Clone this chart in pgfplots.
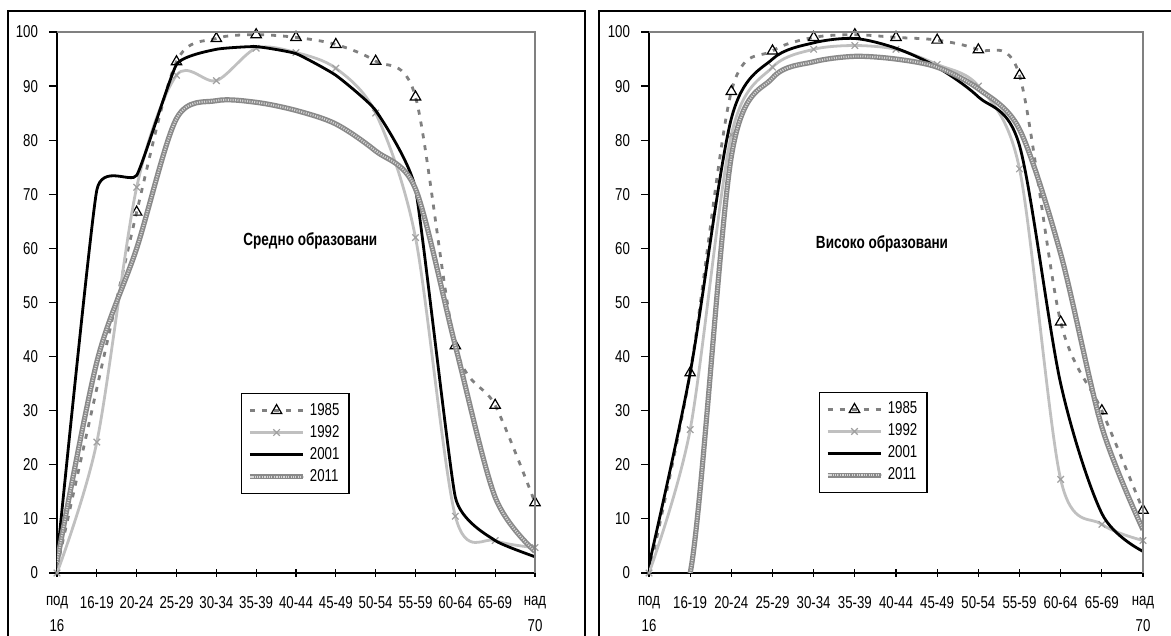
\documentclass[border=0pt]{standalone}
\usepackage{fontspec}
\setmainfont{Liberation Sans}[FakeStretch=0.77]
\usepackage{pgfplots}
\pgfplotsset{compat=1.18}
\definecolor{c85}{HTML}{808080}
\definecolor{c92}{HTML}{C0C0C0}
\definecolor{c92m}{HTML}{A0A0A0}
\definecolor{c11}{HTML}{8A8A8A}
\definecolor{c11h}{HTML}{D8D8D8}
\pgfplotsset{
  panel/.style={
    scale only axis,
    width=239pt, height=270.5pt,
    xmin=0, xmax=12, ymin=0, ymax=100,
    axis lines=left,
    axis line style={-, line width=0.8pt, black},
    xtick={0,...,12},
    xticklabels={под\\16,16-19,20-24,25-29,30-34,35-39,40-44,45-49,50-54,55-59,60-64,65-69,над\\70},
    ytick={0,10,...,100},
    major tick length=4pt,
    x tick style={black, line width=0.6pt},
    y tick style={black, line width=0.6pt},
    xtick align=center,
    ytick align=outside,
    tick label style={font=\fontsize{8.6}{13}\selectfont},
    xticklabel style={align=center, yshift=-6pt},
    yticklabel style={xshift=-2pt},
    /pgf/number format/assume math mode=true,
    legend cell align=left,
    legend style={draw=black, line width=0.6pt, font=\fontsize{8.6}{10}\selectfont,
      row sep=-0.5pt, inner sep=2.8pt},
    legend image code/.code={\draw[mark repeat=2,mark phase=2] plot coordinates {(0cm,0cm) (0.47cm,0cm) (0.94cm,0cm)};},
    clip mode=individual,
  },
  s85/.style={c85, line width=1.4pt, dash pattern=on 2.5pt off 3.5pt, smooth, tension=0.5,
    mark=triangle, mark size=3pt, mark options={solid, draw=black, fill=white, line width=0.6pt}},
  s92/.style={c92, line width=1.4pt, smooth, tension=0.5,
    mark=x, mark size=2.3pt, mark options={solid, draw=c92m, line width=0.6pt}},
  s01/.style={black, line width=1.4pt, smooth, tension=0.5, no markers},
  s11/.style={c11, line width=2.6pt, smooth, tension=0.5, no markers,
    postaction={draw=c11h, line width=1pt, dash pattern=on 0.5pt off 0.7pt}},
}
\begin{document}
\begin{tikzpicture}
\useasboundingbox (0,0) rectangle (585.5pt,318pt);
\draw[line width=1pt] (4pt,-5pt) -- (4pt,312.5pt) -- (292.5pt,312.5pt) -- (292.5pt,-5pt);
\draw[line width=1pt] (299.5pt,-5pt) -- (299.5pt,312.5pt) -- (600pt,312.5pt);

\begin{axis}[panel, at={(28.5pt,31.5pt)}, anchor=south west,
  legend style={at={(0.385,0.333)}, anchor=north west}]
\addplot[s85, mark phase=2] coordinates {(0,1) (2,66.7) (3,94.5) (4,98.8) (5,99.5) (6,99) (7,97.7) (8,94.6) (9,88) (10,42) (11,31) (12,13)};
\addplot[s92] coordinates {(0,0) (1,24.2) (2,71.3) (3,92) (4,91) (5,97) (6,96.2) (7,93.3) (8,85) (9,62) (10,10.5) (11,6) (12,4.7)};
\addplot[s01, tension=0.25] coordinates {(0,2.5) (1,70.8) (2,73.5) (3,94) (4,96.8) (5,97.3) (6,96) (7,92) (8,85.5) (9,71) (10,14) (11,6) (12,3)};
\addplot[s11] coordinates {(0,2) (1,39) (2,60) (3,84) (4,87.3) (5,87) (6,85.5) (7,83) (8,78) (9,71) (10,42) (11,14) (12,4)};
\legend{1985,1992,2001,2011}
\node[font=\bfseries\fontsize{8.8}{10}\selectfont] at (axis cs:6.36,61.4) {Средно образовани};
\draw[c85, line width=0.8pt] (rel axis cs:0,1) -- (rel axis cs:1,1) -- (rel axis cs:1,0);
\end{axis}

\begin{axis}[panel, width=247pt, at={(324.5pt,31.5pt)}, anchor=south west,
  legend style={at={(0.344,0.335)}, anchor=north west}]
\addplot[s85, mark phase=2] coordinates {(0,0) (1,37) (2,89) (3,96.5) (4,99) (5,99.5) (6,99) (7,98.5) (8,96.7) (9,92) (10,46.4) (11,30) (12,11.6)};
\addplot[s92] coordinates {(0,0) (1,26.5) (2,81) (3,93.5) (4,96.8) (5,97.5) (6,96.8) (7,94) (8,90) (9,74.7) (10,17.3) (11,9) (12,6)};
\addplot[s01] coordinates {(0,1.5) (1,37) (2,84) (3,95) (4,98) (5,98.8) (6,97) (7,93.5) (8,88) (9,79) (10,35) (11,11) (12,4)};
\addplot[s11] coordinates {(0,0) (1,0) (2,77) (3,91.5) (4,94.5) (5,95.5) (6,95) (7,93.5) (8,89.5) (9,82) (10,59) (11,27) (12,8)};
\legend{1985,1992,2001,2011}
\node[font=\bfseries\fontsize{8.8}{10}\selectfont] at (axis cs:5.66,60.8) {Високо образовани};
\draw[c85, line width=0.8pt] (rel axis cs:0,1) -- (rel axis cs:1,1) -- (rel axis cs:1,0);
\end{axis}
\end{tikzpicture}
\end{document}
